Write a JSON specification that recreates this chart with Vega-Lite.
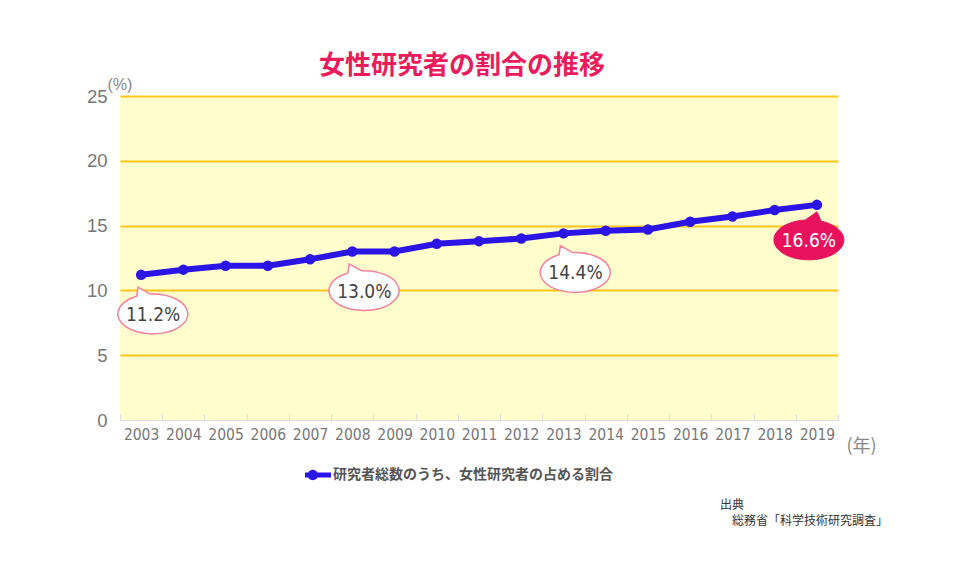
{
  "$schema": "https://vega.github.io/schema/vega-lite/v6.json",
  "width": 718,
  "height": 324,
  "autosize": "none",
  "padding": {"left": 120, "top": 96, "right": 130, "bottom": 148},
  "background": "white",
  "title": {
    "text": "女性研究者の割合の推移",
    "font": "Noto Sans CJK JP",
    "fontSize": 26,
    "fontWeight": "bold",
    "color": "#ea1c5c",
    "anchor": "middle",
    "dx": -17,
    "offset": -3
  },
  "config": {
    "view": {"fill": "#fffdcc", "stroke": null}
  },
  "data": {
    "values": [
      {"year": 2003, "value": 11.2},
      {"year": 2004, "value": 11.6},
      {"year": 2005, "value": 11.9},
      {"year": 2006, "value": 11.9},
      {"year": 2007, "value": 12.4},
      {"year": 2008, "value": 13.0},
      {"year": 2009, "value": 13.0},
      {"year": 2010, "value": 13.6},
      {"year": 2011, "value": 13.8},
      {"year": 2012, "value": 14.0},
      {"year": 2013, "value": 14.4},
      {"year": 2014, "value": 14.6},
      {"year": 2015, "value": 14.7},
      {"year": 2016, "value": 15.3},
      {"year": 2017, "value": 15.7},
      {"year": 2018, "value": 16.2},
      {"year": 2019, "value": 16.6}
    ]
  },
  "encoding": {
    "x": {
      "field": "year",
      "type": "ordinal",
      "scale": {"type": "band", "paddingInner": 0, "paddingOuter": 0},
      "axis": {
        "labelAngle": 0,
        "labelFont": "DejaVu Sans Condensed",
        "labelFontSize": 15.5,
        "labelColor": "#777777",
        "labelPadding": 13,
        "domainColor": "#dddddd",
        "tickColor": "#dddddd",
        "tickBand": "extent",
        "tickSize": -6,
        "title": "(年)",
        "titleAngle": 0,
        "titleX": 726,
        "titleY": 26,
        "titleAlign": "left",
        "titleBaseline": "middle",
        "titleFont": "Noto Sans CJK JP",
        "titleFontSize": 18,
        "titleFontWeight": "normal",
        "titleColor": "#888888"
      }
    },
    "y": {
      "field": "value",
      "type": "quantitative",
      "scale": {"domain": [0, 25]},
      "axis": {
        "values": [0, 5, 10, 15, 20, 25],
        "grid": true,
        "gridColor": {"condition": {"test": "datum.value === 0", "value": "transparent"}, "value": "#ffc61a"},
        "gridWidth": 2,
        "domain": false,
        "ticks": false,
        "tickSize": 0,
        "labelPadding": 13,
        "labelFont": "Liberation Sans",
        "labelFontSize": 18.5,
        "labelColor": "#777777",
        "title": "(%)",
        "titleAngle": 0,
        "titleX": -13,
        "titleY": -12,
        "titleAlign": "left",
        "titleBaseline": "middle",
        "titleFont": "Liberation Sans",
        "titleFontSize": 16,
        "titleFontWeight": "normal",
        "titleColor": "#888888"
      }
    }
  },
  "layer": [
    {
      "mark": {"type": "line", "color": "#2b14e6", "strokeWidth": 6}
    },
    {
      "mark": {"type": "point", "filled": true, "size": 110, "opacity": 1},
      "encoding": {
        "color": {
          "datum": "研究者総数のうち、女性研究者の占める割合",
          "type": "nominal",
          "scale": {"range": ["#2b14e6"]},
          "legend": {
            "orient": "none",
            "legendX": 185,
            "legendY": 366,
            "title": null,
            "padding": 0,
            "symbolType": "M-1,-0.19 H1 V0.19 H-1 Z M0,0 A0.4,0.4 0 1,1 -0.8,0 A0.4,0.4 0 1,1 0,0 Z",
            "symbolSize": 676,
            "symbolStrokeWidth": 0,
            "labelFont": "Noto Sans CJK JP",
            "labelFontSize": 14,
            "labelFontWeight": "bold",
            "labelColor": "#555555",
            "labelOffset": 2,
            "labelLimit": 500
          }
        }
      }
    },
    {
      "transform": [{"filter": {"field": "year", "oneOf": [2003, 2008, 2013]}}],
      "mark": {
        "type": "point",
        "shape": "M-0.47,-0.503 L-0.43,-0.76 L-0.08,-0.566 A1,0.57 0 1,1 -0.47,-0.503 Z",
        "size": 4900,
        "filled": true,
        "fill": "white",
        "stroke": "#f2829f",
        "strokeWidth": 1.5,
        "opacity": 1,
        "xOffset": 12,
        "yOffset": 39
      }
    },
    {
      "transform": [
        {"filter": {"field": "year", "oneOf": [2003, 2008, 2013]}},
        {"calculate": "format(datum.value, '.1f') + '%'", "as": "label"}
      ],
      "mark": {
        "type": "text",
        "font": "DejaVu Sans Condensed",
        "fontSize": 19,
        "color": "#444444",
        "align": "center",
        "baseline": "middle",
        "dx": 12,
        "dy": 40
      },
      "encoding": {"text": {"field": "label"}}
    },
    {
      "transform": [{"filter": {"field": "year", "equal": 2019}}],
      "mark": {
        "type": "point",
        "shape": "M-0.1,-0.567 L0.23,-0.8 L0.35,-0.534 A1,0.57 0 1,1 -0.1,-0.567 Z",
        "size": 4900,
        "filled": true,
        "fill": "#e8125c",
        "stroke": "#e8125c",
        "strokeWidth": 1,
        "opacity": 1,
        "xOffset": -8,
        "yOffset": 35
      }
    },
    {
      "transform": [
        {"filter": {"field": "year", "equal": 2019}},
        {"calculate": "format(datum.value, '.1f') + '%'", "as": "label"}
      ],
      "mark": {
        "type": "text",
        "font": "DejaVu Sans Condensed",
        "fontSize": 19,
        "color": "white",
        "align": "center",
        "baseline": "middle",
        "dx": -8,
        "dy": 36
      },
      "encoding": {"text": {"field": "label"}}
    },
    {
      "data": {"values": [{"note": "出典"}]},
      "mark": {
        "type": "text",
        "font": "Noto Sans CJK JP",
        "fontSize": 12,
        "color": "#333333",
        "align": "left",
        "baseline": "middle",
        "dx": -118,
        "dy": 85
      },
      "encoding": {
        "x": {"value": "width"},
        "y": {"value": "height"},
        "text": {"field": "note"}
      }
    },
    {
      "data": {"values": [{"note": "総務省「科学技術研究調査」"}]},
      "mark": {
        "type": "text",
        "font": "Noto Sans CJK JP",
        "fontSize": 12,
        "color": "#333333",
        "align": "left",
        "baseline": "middle",
        "dx": -106,
        "dy": 101
      },
      "encoding": {
        "x": {"value": "width"},
        "y": {"value": "height"},
        "text": {"field": "note"}
      }
    }
  ]
}
